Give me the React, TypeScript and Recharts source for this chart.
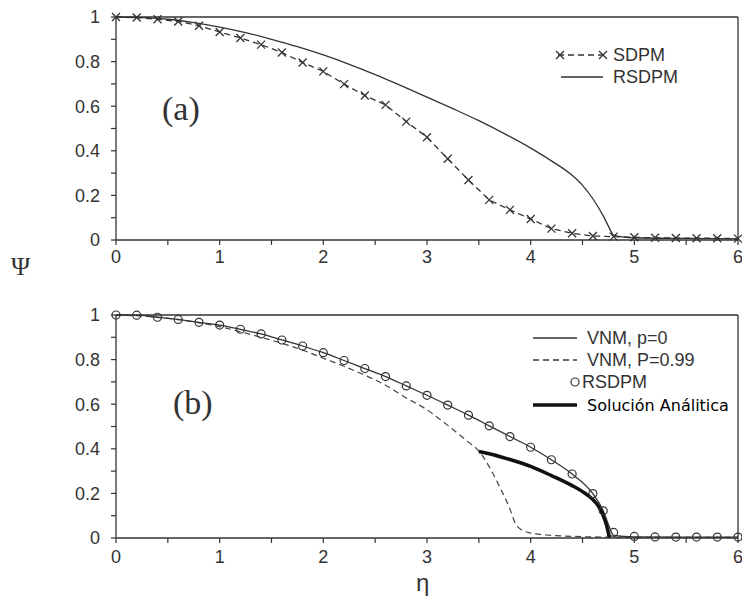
import React from 'react';
import { LineChart, Line, XAxis, YAxis, ReferenceLine, Legend } from 'recharts';

// panel (a)
const sdpmEta = [0, 0.2, 0.4, 0.6, 0.8, 1.0, 1.2, 1.4, 1.6, 1.8, 2.0, 2.2, 2.4, 2.6, 2.8, 3.0, 3.2, 3.4, 3.6, 3.8, 4.0, 4.2, 4.4, 4.6, 4.8, 5.0, 5.2, 5.4, 5.6, 5.8, 6.0];
const sdpmPsi = [1.0, 0.998, 0.99, 0.98, 0.961, 0.933, 0.906, 0.876, 0.841, 0.796, 0.756, 0.699, 0.648, 0.606, 0.531, 0.461, 0.364, 0.269, 0.18, 0.135, 0.094, 0.051, 0.03, 0.018, 0.015, 0.012, 0.01, 0.009, 0.008, 0.008, 0.006];

const rsdpmAEta = [0, 0.25, 0.5, 0.75, 1, 1.25, 1.5, 1.75, 2, 2.25, 2.5, 2.75, 3, 3.25, 3.5, 3.75, 4, 4.2, 4.4, 4.5, 4.6, 4.7, 4.75, 4.8, 4.9, 5, 5.5, 6];
const rsdpmAPsi = [1, 0.997, 0.99, 0.975, 0.955, 0.93, 0.9, 0.867, 0.83, 0.788, 0.742, 0.692, 0.641, 0.589, 0.535, 0.476, 0.412, 0.355, 0.29, 0.245, 0.185, 0.108, 0.062, 0.022, 0.013, 0.01, 0.007, 0.005];

// panel (b)
const vnm0Eta = [0, 0.2, 0.4, 0.6, 0.8, 1.0, 1.2, 1.4, 1.6, 1.8, 2.0, 2.2, 2.4, 2.6, 2.8, 3.0, 3.2, 3.4, 3.6, 3.8, 4.0, 4.2, 4.4, 4.6, 4.7, 4.75, 4.8, 5.0, 5.5, 6.0];
const vnm0Psi = [1, 0.999, 0.99, 0.98, 0.967, 0.955, 0.936, 0.915, 0.888, 0.861, 0.831, 0.796, 0.76, 0.724, 0.682, 0.64, 0.596, 0.551, 0.503, 0.455, 0.407, 0.351, 0.287, 0.199, 0.122, 0.06, 0.012, 0.005, 0.004, 0.004];

const vnm99Eta = [0, 0.4, 0.8, 1.0, 1.2, 1.4, 1.6, 1.8, 2.0, 2.2, 2.4, 2.6, 2.8, 3.0, 3.2, 3.4, 3.5, 3.6, 3.7, 3.8, 3.85, 3.9, 4.0, 4.2, 4.5, 5, 6];
const vnm99Psi = [1, 0.99, 0.965, 0.948, 0.925, 0.9, 0.873, 0.843, 0.806, 0.77, 0.73, 0.685, 0.628, 0.575, 0.505, 0.43, 0.39, 0.32, 0.23, 0.13, 0.067, 0.04, 0.022, 0.012, 0.006, 0.003, 0.003];

const rsdpmBEta = [0, 0.2, 0.4, 0.6, 0.8, 1.0, 1.2, 1.4, 1.6, 1.8, 2.0, 2.2, 2.4, 2.6, 2.8, 3.0, 3.2, 3.4, 3.6, 3.8, 4.0, 4.2, 4.4, 4.6, 4.7, 4.8, 5.0, 5.2, 5.4, 5.6, 5.8, 6.0];
const rsdpmBPsi = [1, 0.999, 0.99, 0.98, 0.967, 0.955, 0.936, 0.915, 0.888, 0.861, 0.831, 0.796, 0.76, 0.724, 0.682, 0.64, 0.596, 0.551, 0.503, 0.455, 0.407, 0.351, 0.287, 0.199, 0.122, 0.025, 0.007, 0.005, 0.004, 0.004, 0.004, 0.004];

const analEta = [3.5, 3.6, 3.8, 4.0, 4.2, 4.4, 4.5, 4.6, 4.65, 4.7, 4.73, 4.76];
const analPsi = [0.388, 0.378, 0.352, 0.321, 0.28, 0.235, 0.208, 0.172, 0.145, 0.1, 0.06, 0];

const xTicks = [0, 0.5, 1, 1.5, 2, 2.5, 3, 3.5, 4, 4.5, 5, 5.5, 6];
const yTicks = [0, 0.1, 0.2, 0.3, 0.4, 0.5, 0.6, 0.7, 0.8, 0.9, 1];

const zip = (xs: number[], ys: number[]) => xs.map((eta, i) => ({ eta, psi: ys[i] }));

const INK = '#333';
const SANS = '"Liberation Sans", Arial, Helvetica, sans-serif';
const SERIF = '"Liberation Serif", "Times New Roman", serif';

const XTick = (props: any) => {
  const { x, y, payload, labelDy } = props;
  const v = payload.value;
  const major = Number.isInteger(v);
  return (
    <g>
      <line x1={x} y1={y} x2={x} y2={y + 5} stroke={INK} strokeWidth={1.2} />
      {major && (
        <text x={x} y={y + labelDy} textAnchor="middle" fontSize={18} fill={INK} fontFamily={SANS}>
          {v}
        </text>
      )}
    </g>
  );
};

const YTick = (props: any) => {
  const { x, y, payload } = props;
  const v = payload.value;
  const major = Math.round(v * 10) % 2 === 0;
  return (
    <g>
      <line x1={x - 5} y1={y} x2={x} y2={y} stroke={INK} strokeWidth={1.2} />
      {major && (
        <text x={x - 16} y={y} dy="0.35em" textAnchor="end" fontSize={18} fill={INK} fontFamily={SANS}>
          {v}
        </text>
      )}
    </g>
  );
};

const CrossDot = (props: any) => {
  const { cx, cy } = props;
  if (cx == null || cy == null) return null;
  const s = 4;
  return (
    <path
      d={`M${cx - s},${cy - s}L${cx + s},${cy + s}M${cx - s},${cy + s}L${cx + s},${cy - s}`}
      stroke={INK}
      strokeWidth={1.3}
      fill="none"
    />
  );
};

const RingDot = (props: any) => {
  const { cx, cy } = props;
  if (cx == null || cy == null) return null;
  return <circle cx={cx} cy={cy} r={4} stroke={INK} strokeWidth={1.2} fill="none" />;
};

const LegendA = () => (
  <svg width={160} height={50}>
    <line x1={8} y1={15} x2={55} y2={15} stroke={INK} strokeWidth={1.3} strokeDasharray="6 4" />
    <CrossDot cx={10} cy={15} />
    <CrossDot cx={53} cy={15} />
    <text x={63} y={15} dy="0.35em" fontSize={18} fill={INK} fontFamily={SANS}>SDPM</text>
    <line x1={11} y1={37} x2={53} y2={37} stroke={INK} strokeWidth={1.3} />
    <text x={63} y={37} dy="0.35em" fontSize={18} fill={INK} fontFamily={SANS}>RSDPM</text>
  </svg>
);

const LegendB = () => (
  <svg width={217} height={95}>
    <line x1={8} y1={13} x2={52} y2={13} stroke={INK} strokeWidth={1.3} />
    <text x={62} y={13} dy="0.35em" fontSize={18} fill={INK} fontFamily={SANS}>VNM, p=0</text>
    <line x1={8} y1={35} x2={52} y2={35} stroke={INK} strokeWidth={1.3} strokeDasharray="6 4" />
    <text x={62} y={35} dy="0.35em" fontSize={18} fill={INK} fontFamily={SANS}>VNM, P=0.99</text>
    <RingDot cx={50} cy={57} />
    <text x={57} y={57} dy="0.35em" fontSize={18} fill={INK} fontFamily={SANS}>RSDPM</text>
    <line x1={8} y1={80} x2={52} y2={80} stroke="#111" strokeWidth={3.5} />
    <text x={62} y={80} dy="0.35em" fontSize={16} fill="#000" fontFamily='"DejaVu Sans", sans-serif'>Solución Análitica</text>
  </svg>
);

export default function App() {
  const sdpm = zip(sdpmEta, sdpmPsi);
  const rsA = zip(rsdpmAEta, rsdpmAPsi);
  const vnm0 = zip(vnm0Eta, vnm0Psi);
  const vnm99 = zip(vnm99Eta, vnm99Psi);
  const rsB = zip(rsdpmBEta, rsdpmBPsi);
  const anal = zip(analEta, analPsi);

  const axisLine = { stroke: INK, strokeWidth: 1.3 };

  return (
    <div style={{ position: 'absolute', left: 0, top: 0, width: 742, height: 599, background: '#fff', fontFamily: SANS }}>
      <div style={{ position: 'absolute', left: 0, top: 0 }}>
        <LineChart width={742} height={290} margin={{ top: 17, right: 4, bottom: 0, left: 0 }}>
          <XAxis
            type="number"
            dataKey="eta"
            domain={[0, 6]}
            ticks={xTicks}
            interval={0}
            height={50}
            tickSize={0}
            tickMargin={0}
            tickLine={false}
            axisLine={axisLine}
            tick={<XTick labelDy={23} />}
          />
          <YAxis
            type="number"
            dataKey="psi"
            domain={[0, 1]}
            ticks={yTicks}
            interval={0}
            width={116}
            tickSize={0}
            tickMargin={0}
            tickLine={false}
            axisLine={axisLine}
            tick={<YTick />}
          />
          <ReferenceLine y={1} stroke={INK} strokeWidth={1.3} />
          <ReferenceLine x={6} stroke={INK} strokeWidth={1.3} />
          <Line
            data={rsA}
            dataKey="psi"
            type="monotone"
            stroke={INK}
            strokeWidth={1.3}
            dot={false}
            activeDot={false}
            isAnimationActive={false}
          />
          <Line
            data={sdpm}
            dataKey="psi"
            type="linear"
            stroke={INK}
            strokeWidth={1.3}
            strokeDasharray="6 4"
            dot={<CrossDot />}
            activeDot={false}
            isAnimationActive={false}
          />
          <Legend
            layout="vertical"
            align="center"
            verticalAlign="middle"
            content={() => <LegendA />}
            wrapperStyle={{ top: 40, left: 550, width: 160, height: 50 }}
          />
        </LineChart>
      </div>

      <div style={{ position: 'absolute', left: 0, top: 290 }}>
        <LineChart width={742} height={309} margin={{ top: 25, right: 4, bottom: 0, left: 0 }}>
          <XAxis
            type="number"
            dataKey="eta"
            domain={[0, 6]}
            ticks={xTicks}
            interval={0}
            height={61}
            tickSize={0}
            tickMargin={0}
            tickLine={false}
            axisLine={axisLine}
            tick={<XTick labelDy={25} />}
          />
          <YAxis
            type="number"
            dataKey="psi"
            domain={[0, 1]}
            ticks={yTicks}
            interval={0}
            width={116}
            tickSize={0}
            tickMargin={0}
            tickLine={false}
            axisLine={axisLine}
            tick={<YTick />}
          />
          <ReferenceLine y={1} stroke={INK} strokeWidth={1.3} />
          <ReferenceLine x={6} stroke={INK} strokeWidth={1.3} />
          <Line
            data={vnm99}
            dataKey="psi"
            type="monotone"
            stroke="#444"
            strokeWidth={1.2}
            strokeDasharray="6 4"
            dot={false}
            activeDot={false}
            isAnimationActive={false}
          />
          <Line
            data={vnm0}
            dataKey="psi"
            type="monotone"
            stroke={INK}
            strokeWidth={1.3}
            dot={false}
            activeDot={false}
            isAnimationActive={false}
          />
          <Line
            data={rsB}
            dataKey="psi"
            type="linear"
            stroke="none"
            dot={<RingDot />}
            activeDot={false}
            isAnimationActive={false}
          />
          <Line
            data={anal}
            dataKey="psi"
            type="monotone"
            stroke="#111"
            strokeWidth={3.5}
            dot={false}
            activeDot={false}
            isAnimationActive={false}
          />
          <Legend
            layout="vertical"
            align="center"
            verticalAlign="middle"
            content={() => <LegendB />}
            wrapperStyle={{ top: 35, left: 525, width: 217, height: 95 }}
          />
        </LineChart>
      </div>

      <div style={{ position: 'absolute', left: 162, top: 92, fontFamily: SERIF, fontSize: 34, color: INK, lineHeight: 1 }}>(a)</div>
      <div style={{ position: 'absolute', left: 173, top: 386, fontFamily: SERIF, fontSize: 34, color: INK, lineHeight: 1 }}>(b)</div>
      <div style={{ position: 'absolute', left: 11, top: 254, fontFamily: SERIF, fontSize: 26, color: INK, lineHeight: 1 }}>Ψ</div>
      <div style={{ position: 'absolute', left: 416, top: 571, fontFamily: SANS, fontSize: 24, color: INK, lineHeight: 1 }}>η</div>
    </div>
  );
}
